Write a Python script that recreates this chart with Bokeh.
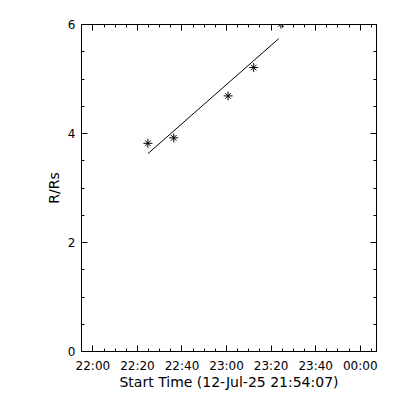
from bokeh.plotting import figure
from bokeh.models import Range1d, FixedTicker, LinearAxis
from bokeh.embed import file_html
from bokeh.resources import INLINE

# minutes after 22:00 on 12-Jul-25
t_min = [24.7, 36.3, 60.7, 72.2, 84.4]
r_rs = [3.82, 3.92, 4.69, 5.21, 6.01]
fit_t = [24.7, 83.4]
fit_r = [3.63, 5.74]

x_ticks = [0, 20, 40, 60, 80, 100, 120]
x_labels = ["22:00", "22:20", "22:40", "23:00", "23:20", "23:40", "00:00"]
x_minor = [-5, 5, 10, 15, 25, 30, 35, 45, 50, 55, 65, 70, 75, 85, 90, 95, 105, 110, 115, 125]
y_ticks = [0, 2, 4, 6]
y_minor = [0.5, 1, 1.5, 2.5, 3, 3.5, 4.5, 5, 5.5]

FONT = "DejaVu Sans"

p = figure(frame_width=295, frame_height=327, output_backend="svg", toolbar_location=None,
           x_range=Range1d(-5.1, 127.3), y_range=Range1d(0, 6),
           min_border_left=81, min_border_right=16, min_border_top=24, min_border_bottom=41,
           x_axis_label="Start Time (12-Jul-25 21:54:07)", y_axis_label="R/Rs")
p.grid.visible = False
p.outline_line_color = "black"
p.outline_line_width = 1
p.background_fill_color = "white"
p.border_fill_color = "white"

xt = FixedTicker(ticks=x_ticks, minor_ticks=x_minor)
yt = FixedTicker(ticks=y_ticks, minor_ticks=y_minor)

for ax in p.xaxis:
    ax.ticker = xt
    ax.major_label_overrides = {t: l for t, l in zip(x_ticks, x_labels)}
    ax.major_label_standoff = 7
    ax.axis_label_standoff = -2
for ax in p.yaxis:
    ax.ticker = yt
    ax.major_label_standoff = 6
    ax.axis_label_standoff = 3

for ax in list(p.xaxis) + list(p.yaxis):
    ax.major_tick_in = 6
    ax.major_tick_out = 0
    ax.minor_tick_in = 3
    ax.minor_tick_out = 0
    ax.axis_line_color = "black"
    ax.major_tick_line_color = "black"
    ax.minor_tick_line_color = "black"
    ax.major_label_text_font = FONT
    ax.major_label_text_font_size = "12px"
    ax.major_label_text_color = "black"
    ax.axis_label_text_font = FONT
    ax.axis_label_text_font_size = "14px"
    ax.axis_label_text_font_style = "normal"
    ax.axis_label_text_color = "black"

top = LinearAxis(ticker=xt, major_label_text_color=None, major_label_text_font_size="8px",
                 major_tick_in=6, major_tick_out=0, minor_tick_in=3, minor_tick_out=0,
                 major_label_standoff=0)
right = LinearAxis(ticker=yt, major_label_text_color=None, major_label_text_font_size="8px",
                   major_tick_in=6, major_tick_out=0, minor_tick_in=3, minor_tick_out=0,
                   major_label_standoff=0)
p.add_layout(top, "above")
p.add_layout(right, "right")

p.line(fit_t, fit_r, line_color="black", line_width=1)
p.scatter(t_min, r_rs, marker="cross", size=9, line_color="black", line_width=1)
p.scatter(t_min, r_rs, marker="x", size=8, line_color="black", line_width=1)

open("out.html", "w").write(file_html(p, INLINE))
